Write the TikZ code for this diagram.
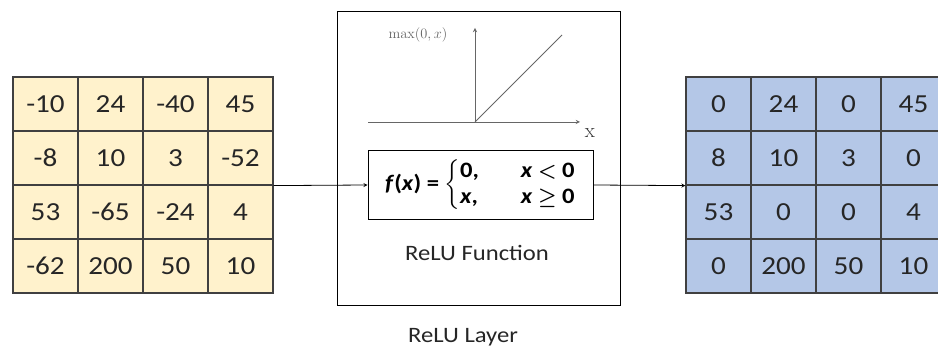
\documentclass[tikz,border=0pt]{standalone}
\usepackage{amsmath}
\usepackage[no-math]{fontspec}
\setmainfont{Carlito}[FakeStretch=1.12]
\usepackage{xcolor}
\usetikzlibrary{positioning}
\definecolor{inyellow}{HTML}{FFF2CC}
\definecolor{outblue}{HTML}{B4C7E7}

\begin{document}
\begin{tikzpicture}[x=1pt, y=1pt,
    cell/.style={draw=black!75, line width=1.2pt, minimum width=65pt, minimum height=54pt, inner sep=0pt, fill=#1, text=black!85, font=\fontsize{26}{30}\selectfont},
    arr/.style={->, >=stealth, line width=0.8pt},
    axis/.style={->, >=stealth, draw=black!60, line width=0.9pt},
    lbl/.style={font=\fontsize{22}{26}\selectfont, text=black!85}
]
\useasboundingbox (0,0) rectangle (938,352);

% Input feature map
\foreach \v [count=\i from 0] in {-10,24,-40,45,-8,10,3,-52,53,-65,-24,4,-62,200,50,10} {
    \pgfmathtruncatemacro\r{div(\i,4)}
    \pgfmathtruncatemacro\c{mod(\i,4)}
    \node[cell=inyellow] (in-\r-\c) at (45.5+65*\c, 248-54*\r) {\v};
}

% Rectified feature map
\foreach \v [count=\i from 0] in {0,24,0,45,8,10,3,0,53,0,0,4,0,200,50,10} {
    \pgfmathtruncatemacro\r{div(\i,4)}
    \pgfmathtruncatemacro\c{mod(\i,4)}
    \node[cell=outblue] (out-\r-\c) at (718.5+65*\c, 248-54*\r) {\v};
}

% ReLU layer
\node[draw, line width=1pt, minimum width=283pt, minimum height=294pt] (layer) at (478.5,193) {};
\node[lbl] (lname) at (463,15) {ReLU Layer};

% Graph of max(0,x)
\coordinate (o) at (475,230);
\coordinate (xl) at (368,230);
\coordinate (xr) at (580,230);
\coordinate (yt) at (475,324);
\coordinate (rt) at (562,317);
\draw[axis] (xl) -- (xr);
\draw[axis] (o) -- (yt);
\draw[draw=black!60, line width=0.9pt] (o) -- (rt);
\node[text=black!60, font=\fontsize{15}{18}\selectfont] (ylab) at (418,317) {$\max(0,x)$};
\node[text=black!80, font=\fontsize{20}{22}\selectfont] (xlab) at (590,219) {$\mathrm{x}$};

% ReLU function
\node[draw, line width=1pt, minimum width=225pt, minimum height=69pt, inner sep=2pt, font=\fontsize{22}{25}\selectfont\bfseries\boldmath] (relu) at (480.5,167) {\renewcommand\arraystretch{1.05}\textit{f}(\textit{x}) = $\left\{\begin{tabular}{@{}l@{\hspace{1.9em}}l@{}}0, & \textit{x} $<$ 0\\ \textit{x}, & \textit{x} $\geq$ 0\end{tabular}\right.$};
\node[lbl] (fname) at (477,99) {ReLU Function};

% Arrows in and out
\draw[arr] (in-1-3.south east) -- (relu.west);
\draw[arr] (relu.east) -- (out-1-0.south west);
\end{tikzpicture}
\end{document}
